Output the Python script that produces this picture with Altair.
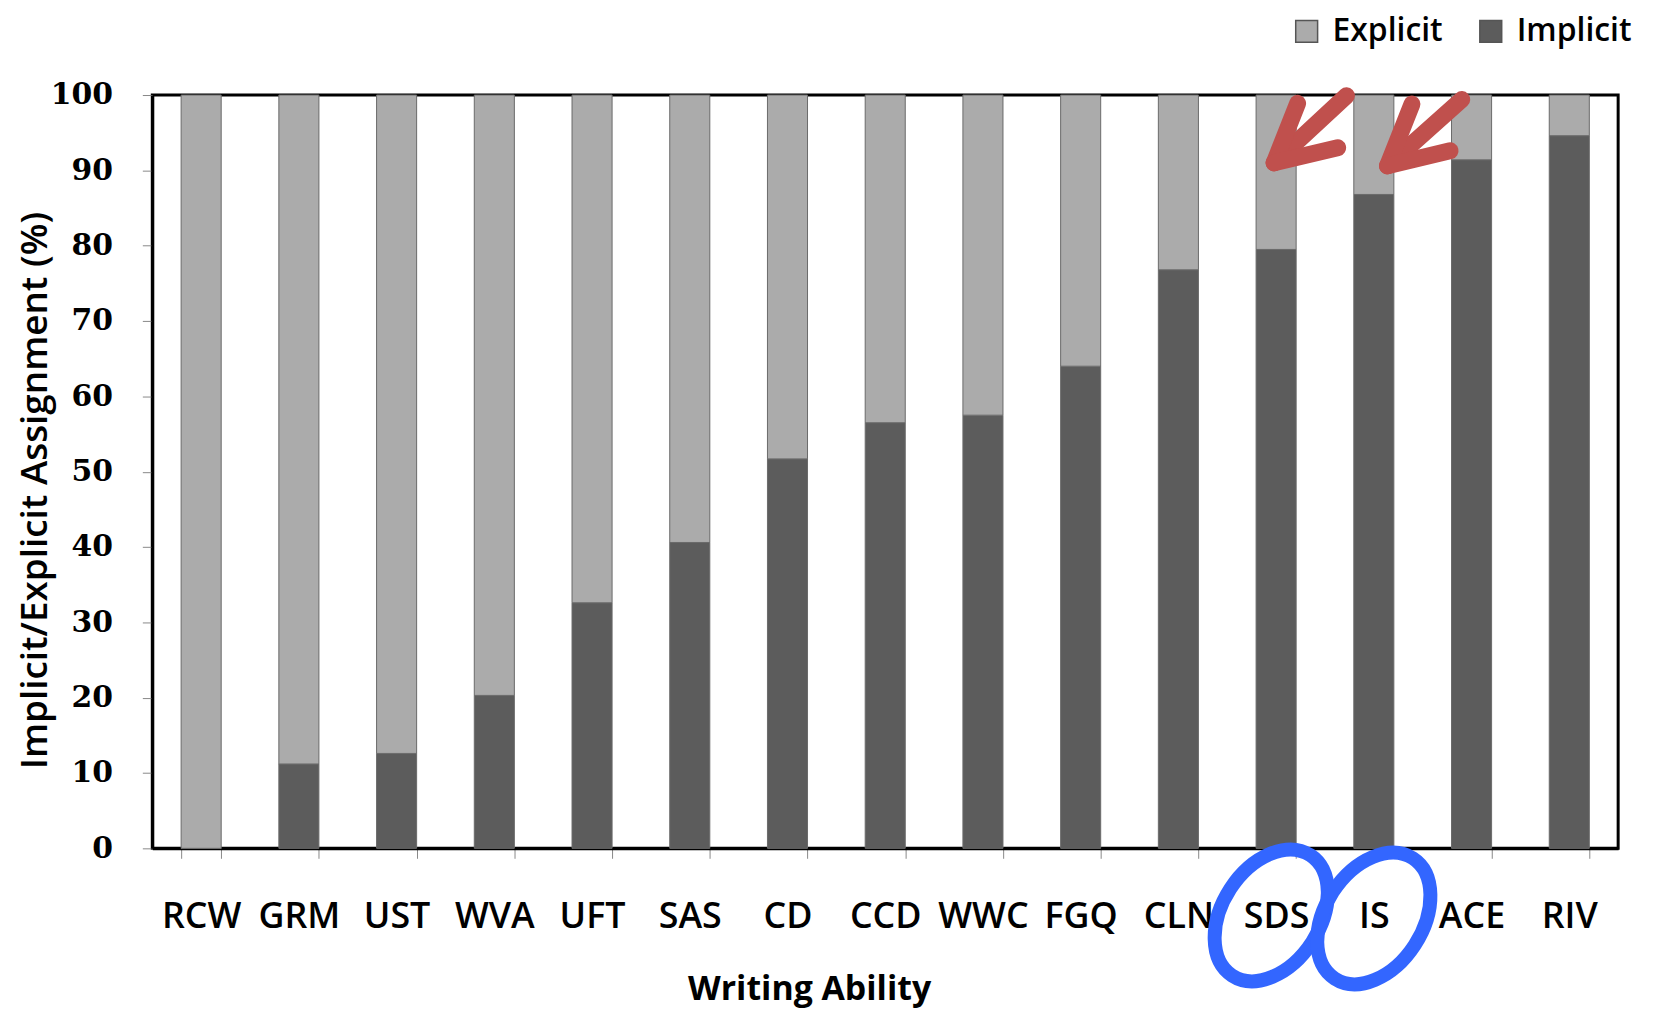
import altair as alt
import pandas as pd

categories = ["RCW", "GRM", "UST", "WVA", "UFT", "SAS", "CD", "CCD", "WWC", "FGQ",
              "CLN", "SDS", "IS", "ACE", "RIV"]
implicit = [0, 11.2, 12.6, 20.3, 32.6, 40.6, 51.7, 56.5, 57.5, 64.0, 76.8, 79.5, 86.8, 91.4, 94.6]
explicit = [100, 88.8, 87.4, 79.7, 67.4, 59.4, 48.3, 43.5, 42.5, 36.0, 23.2, 20.5, 13.2, 8.6, 5.4]
series = ["Explicit", "Implicit"]
series_colors = ["#ABABAB", "#5C5C5C"]
y_ticks = [0, 10, 20, 30, 40, 50, 60, 70, 80, 90, 100]

# annotation arrows (in band-index units along x, percent along y)
arrow_x = [11.48, 11.48, 11.48, 12.64, 12.64, 12.64]
arrow_y = [91.0, 91.0, 91.0, 90.6, 90.6, 90.6]
arrow_x2 = [12.22, 11.72, 12.13, 13.40, 12.89, 13.28]
arrow_y2 = [99.9, 98.9, 93.0, 99.4, 98.8, 92.6]
# annotation ellipses around the SDS and IS labels
ellipse_x = [11.45, 12.50]
ellipse_y = [-8.9, -9.3]

rows = []
for c, imp, exp in zip(categories, implicit, explicit):
    rows.append({"ability": c, "series": "Implicit", "value": imp, "ord": 0})
    rows.append({"ability": c, "series": "Explicit", "value": exp, "ord": 1})
df = pd.DataFrame(rows)

arrows = pd.DataFrame({"x": arrow_x, "y": arrow_y, "x2": arrow_x2, "y2": arrow_y2})
ellipses = pd.DataFrame({"x": ellipse_x, "y": ellipse_y})

yscale = alt.Scale(domain=[0, 100], nice=False, zero=True)

bars = alt.Chart(df).mark_bar(stroke="#6a6a6a", strokeWidth=1).encode(
    x=alt.X("ability:N", sort=categories,
            scale=alt.Scale(paddingInner=0.59, paddingOuter=0.295),
            axis=alt.Axis(title="Writing Ability", labelAngle=0, tickBand="extent",
                          labelFont="Open Sans", labelFontSize=36, labelFontWeight=600,
                          labelColor="black",
                          labelPadding=42, tickSize=10, tickColor="#888",
                          domainColor="black", domainWidth=3,
                          titleFont="Open Sans", titleFontSize=34, titleFontWeight="bold",
                          titleColor="black", titleX=660, titleY=152,
                          titleBaseline="alphabetic", titleAlign="center")),
    y=alt.Y("value:Q", stack="zero", scale=yscale,
            axis=alt.Axis(title="Implicit/Explicit Assignment (%)", values=y_ticks,
                          labelFont="DejaVu Serif", labelFontWeight="bold", labelFontSize=30,
                          labelColor="black", labelPadding=30, tickSize=10, tickColor="#888",
                          domainColor="black", domainWidth=3, grid=False,
                          titleFont="Open Sans", titleFontSize=37, titleFontWeight=600,
                          titleColor="black", titleX=-117, titleY=397,
                          titleAlign="center", titleBaseline="middle")),
    color=alt.Color("series:N", scale=alt.Scale(domain=series, range=series_colors),
                    legend=alt.Legend(title=None, orient="none", direction="horizontal",
                                      legendX=1144, legendY=-80, symbolType="square",
                                      symbolSize=484, symbolStrokeColor="#555",
                                      symbolStrokeWidth=1.5, symbolOpacity=1,
                                      labelFont="Open Sans", labelFontSize=32,
                                      labelFontWeight=600, labelColor="black",
                                      columnPadding=32, labelOffset=10, padding=0)),
    order=alt.Order("ord:Q"),
)

ann_x = alt.Scale(domain=[0, 15], nice=False, zero=False)

arrow_layer = alt.Chart(arrows).mark_rule(color="#C0504D", strokeWidth=17,
                                          strokeCap="round").encode(
    x=alt.X("x:Q", scale=ann_x, axis=None),
    x2="x2:Q",
    y=alt.Y("y:Q", scale=yscale),
    y2="y2:Q",
)

ellipse_shape = "M 0 -1 A 0.68 1 0 1 1 0 1 A 0.68 1 0 1 1 0 -1 Z"
ellipse_layer = alt.Chart(ellipses).mark_point(
    shape=ellipse_shape, size=20800, angle=33, filled=False,
    stroke="#3366FF", strokeWidth=14, opacity=1
).encode(
    x=alt.X("x:Q", scale=ann_x, axis=None),
    y=alt.Y("y:Q", scale=yscale),
)

chart = alt.layer(bars, arrow_layer, ellipse_layer).resolve_scale(
    x="independent"
).properties(
    width=1473, height=757,
    autosize=alt.AutoSizeParams(type="none"),
    padding={"left": 145, "top": 85, "right": 30, "bottom": 160},
).configure_view(stroke="black", strokeWidth=3)

chart.save("out.html", embed_options={"renderer": "svg", "actions": False})
